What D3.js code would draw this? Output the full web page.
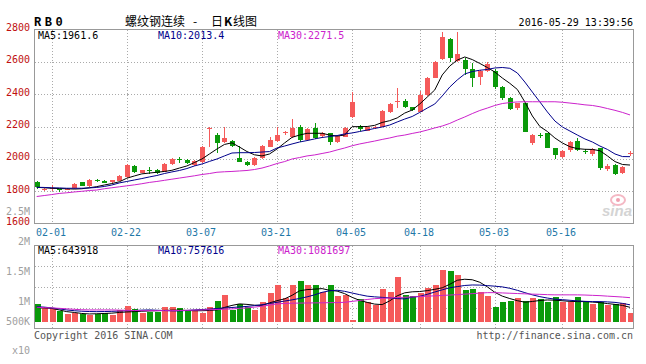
<!DOCTYPE html>
<html>
<head>
<meta charset="utf-8">
<script src="https://cdn.jsdelivr.net/npm/d3@7/dist/d3.min.js"></script>
<style>
  body { margin: 0; background: #fff; }
  svg { display: block; font-family: "DejaVu Sans Mono", monospace; font-size: 10px; }
</style>
</head>
<body>
<svg id="chart" width="646" height="364"></svg>
<script>
// trading days shown, 2016
const dates = [
  '01-28','01-29','02-01','02-02','02-03','02-04','02-05','02-15','02-16','02-17',
  '02-18','02-19','02-22','02-23','02-24','02-25','02-26','02-29','03-01','03-02',
  '03-03','03-04','03-07','03-08','03-09','03-10','03-11','03-14','03-15','03-16',
  '03-17','03-18','03-21','03-22','03-23','03-24','03-25','03-28','03-29','03-30',
  '03-31','04-01','04-05','04-06','04-07','04-08','04-11','04-12','04-13','04-14',
  '04-15','04-18','04-19','04-20','04-21','04-22','04-25','04-26','04-27','04-28',
  '04-29','05-03','05-04','05-05','05-06','05-09','05-10','05-11','05-12','05-13',
  '05-16','05-17','05-18','05-19','05-20','05-23','05-24','05-25','05-26','05-27'
];
const dateTicks = ['02-01','02-22','03-07','03-21','04-05','04-18','05-03','05-16'];

const opens = [
  1858,1808,1818,1812,1810,1818,1855,1832,1868,1865,
  1855,1865,1886,1956,1914,1928,1931,1920,1968,1997,
  1993,1962,1978,2185,2147,2106,2110,2003,1982,1962,
  2003,2075,2110,2158,2133,2199,2116,2189,2141,2158,
  2106,2137,2257,2203,2174,2190,2199,2292,2350,2360,
  2318,2292,2395,2502,2616,2741,2607,2611,2554,2504,
  2545,2545,2442,2374,2312,2343,2096,2150,2158,2065,
  2013,2054,2110,2050,2030,2065,1935,1962,1914,2030
];
const highs = [
  1862,1818,1838,1815,1818,1848,1858,1875,1873,1868,
  1872,1900,1966,1960,1934,1950,1935,1972,2006,2010,
  1996,1993,2080,2197,2162,2197,2116,2079,1985,2010,
  2085,2137,2199,2170,2245,2209,2190,2220,2168,2162,
  2145,2195,2415,2210,2200,2203,2305,2345,2436,2368,
  2322,2420,2504,2607,2786,2748,2786,2622,2591,2550,
  2597,2555,2448,2380,2345,2348,2152,2160,2162,2068,
  2054,2112,2130,2058,2065,2068,1965,1965,1955,2048
];
const lows = [
  1815,1803,1800,1795,1805,1815,1830,1828,1858,1850,
  1850,1862,1883,1912,1910,1906,1906,1916,1962,1975,
  1968,1958,1975,2071,2034,2100,2075,1978,1955,1958,
  2000,2072,2105,2150,2130,2106,2112,2122,2127,2085,
  2100,2132,2250,2170,2170,2185,2195,2285,2312,2315,
  2298,2288,2390,2498,2610,2597,2600,2519,2446,2457,
  2540,2430,2365,2300,2300,2165,2085,2130,2065,1997,
  2003,2040,2050,2030,2020,1930,1922,1900,1905,2018
];
const closes = [
  1825,1812,1822,1808,1812,1844,1834,1869,1864,1853,
  1869,1896,1962,1920,1931,1924,1914,1968,1997,1990,
  1972,1988,2075,2192,2100,2131,2079,1982,1962,2007,
  2079,2116,2147,2164,2193,2116,2184,2127,2162,2106,
  2141,2189,2353,2183,2195,2197,2298,2339,2355,2322,
  2302,2395,2498,2601,2752,2622,2648,2554,2498,2545,
  2587,2446,2374,2306,2343,2168,2147,2145,2069,2024,
  2050,2106,2054,2043,2059,1941,1956,1906,1951,2034
];
const ma5 = [
  1824,1821,1818,1816,1815,1813,1815,1821,1828,1838,
  1847,1858,1880,1894,1907,1912,1917,1922,1929,1943,
  1956,1977,1999,2030,2061,2089,2099,2073,2045,2025,
  2018,2030,2061,2098,2133,2147,2158,2158,2158,2147,
  2141,2147,2199,2199,2200,2207,2225,2236,2253,2283,
  2302,2339,2382,2426,2519,2574,2611,2630,2614,2590,
  2565,2537,2500,2467,2429,2352,2265,2200,2169,2129,
  2098,2075,2063,2059,2058,2050,2018,1983,1965,1961.6
];
const ma10 = [
  1824,1823,1821,1820,1818,1818,1818,1820,1823,1829,
  1838,1851,1860,1869,1878,1888,1897,1909,1919,1928,
  1940,1956,1968,1984,1999,2018,2036,2038,2038,2039,
  2042,2045,2067,2079,2092,2104,2113,2123,2132,2138,
  2144,2154,2160,2169,2178,2188,2197,2209,2228,2246,
  2262,2287,2314,2339,2389,2444,2488,2525,2540,2548,
  2553,2562,2565,2560,2531,2475,2413,2352,2290,2234,
  2197,2172,2147,2123,2104,2079,2058,2030,2014,2013.4
];
const ma30 = [
  1767,1773,1779,1786,1790,1795,1799,1804,1807,1815,
  1821,1827,1833,1839,1846,1854,1860,1867,1874,1881,
  1888,1895,1903,1909,1917,1920,1922,1925,1928,1934,
  1943,1956,1971,1983,1999,2008,2018,2024,2033,2042,
  2055,2067,2081,2092,2101,2110,2120,2129,2140,2147,
  2157,2166,2178,2191,2203,2219,2240,2259,2280,2299,
  2314,2330,2342,2348,2352,2353,2353,2353,2353,2353,
  2350,2345,2340,2334,2330,2322,2311,2300,2287,2271.5
];
const volumes = [
  799000,648000,603000,479000,342000,402000,342000,297000,329000,402000,
  297000,525000,708000,557000,402000,434000,434000,676000,676000,603000,
  525000,525000,402000,676000,950000,1210000,525000,785000,648000,525000,
  904000,1315000,1635000,1059000,1635000,1849000,1635000,1635000,1361000,1635000,
  1178000,1210000,68000,1014000,904000,753000,1484000,1361000,2000000,1210000,
  1164000,1288000,1543000,1667000,2352000,2306000,2091000,1438000,1484000,1333000,
  1178000,676000,904000,950000,1059000,950000,1087000,1014000,904000,1105000,
  904000,904000,1105000,950000,799000,904000,753000,799000,831000,402000
];
const volMa5 = [
  639000,616000,594000,525000,447000,411000,365000,342000,352000,365000,
  379000,411000,434000,447000,466000,479000,489000,502000,516000,516000,
  502000,489000,489000,502000,525000,639000,731000,799000,776000,740000,
  731000,845000,945000,1027000,1187000,1393000,1447000,1470000,1493000,1416000,
  1379000,1265000,1096000,959000,868000,790000,767000,936000,1164000,1301000,
  1347000,1361000,1402000,1461000,1530000,1689000,1872000,1918000,1895000,1781000,
  1575000,1324000,1151000,1041000,945000,877000,909000,954000,977000,968000,
  941000,913000,904000,904000,881000,858000,813000,776000,731000,643918
];
const volMa10 = [
  671000,653000,616000,571000,525000,489000,466000,452000,447000,452000,
  461000,475000,489000,502000,516000,525000,511000,498000,484000,479000,
  502000,525000,543000,562000,589000,616000,635000,662000,685000,721000,
  763000,817000,872000,927000,982000,1046000,1119000,1210000,1324000,1393000,
  1420000,1370000,1292000,1219000,1151000,1119000,1096000,1073000,1037000,1027000,
  1105000,1142000,1233000,1338000,1438000,1530000,1584000,1635000,1658000,1653000,
  1630000,1603000,1571000,1507000,1416000,1310000,1210000,1128000,1064000,1014000,
  991000,963000,936000,913000,904000,904000,890000,868000,822000,757616
];
const volMa30 = [
  644000,630000,616000,598000,575000,553000,534000,525000,525000,525000,
  525000,516000,507000,498000,493000,493000,493000,493000,493000,498000,
  507000,516000,525000,534000,548000,557000,571000,594000,621000,653000,
  694000,744000,799000,822000,831000,836000,840000,845000,849000,854000,
  858000,872000,913000,954000,1000000,1037000,1055000,1068000,1087000,1100000,
  1119000,1132000,1151000,1164000,1183000,1201000,1219000,1242000,1265000,1288000,
  1310000,1310000,1297000,1283000,1269000,1256000,1242000,1233000,1219000,1210000,
  1210000,1210000,1210000,1201000,1187000,1174000,1151000,1132000,1110000,1081697
];

const priceTicks = [2800, 2600, 2400, 2200, 2000, 1800, 1600];
const volLabels = [
  { v: 2500000, text: '2.5M' },
  { v: 2000000, text: '2M' },
  { v: 1500000, text: '1.5M' },
  { v: 1000000, text: '1M' },
  { v: 500000, text: '500K' }
];
const maNames = ['MA5', 'MA10', 'MA30'];

const red = '#f55a5a';
const green = '#0a9a0a';
const maColors = ['#000000', '#00008b', '#cc22cc'];
const gridColor = '#aaaaaa';
const frameColor = '#999999';

const price = { left: 34.5, right: 633.5, top: 29.5, bottom: 223.5 };
const vol = { left: 34.5, right: 633.5, top: 245.5, bottom: 328.5, base: 321.5 };

const svg = d3.select('#chart');

const xScale = d3.scalePoint().domain(dates).range([36.7, 630]);
const yScale = d3.scaleLinear().domain([1600, 2800]).range([price.bottom, price.top]);
const vScale = d3.scaleLinear().domain([0, 3450000]).range([vol.base, vol.top]);
// sina places the volume labels on their own spacing
const vLabelScale = d3.scaleLinear().domain([1000000, 2500000]).range([301.7, 211.6]);

const px = (d) => Math.round(xScale(d));

function drawGrid() {
  const g = svg.append('g').attr('class', 'grid')
    .attr('stroke', gridColor).attr('stroke-dasharray', '1,2').attr('shape-rendering', 'crispEdges');

  g.selectAll('line.h')
    .data(priceTicks.slice(1, -1))
    .join('line')
    .attr('class', 'h')
    .attr('x1', price.left).attr('x2', price.right)
    .attr('y1', (d) => Math.round(yScale(d)) + 0.5)
    .attr('y2', (d) => Math.round(yScale(d)) + 0.5);

  const vh = [1, 2, 3].map((k) => vol.top + k * (vol.bottom - vol.top) / 4);
  g.selectAll('line.vh')
    .data(vh)
    .join('line')
    .attr('class', 'vh')
    .attr('x1', vol.left).attr('x2', vol.right)
    .attr('y1', (d) => Math.round(d) + 0.5)
    .attr('y2', (d) => Math.round(d) + 0.5);

  [price, vol].forEach((p) => {
    g.append('g').selectAll('line')
      .data(dateTicks)
      .join('line')
      .attr('x1', (d) => px(d) + 0.5).attr('x2', (d) => px(d) + 0.5)
      .attr('y1', p.top).attr('y2', p.bottom);
  });
}

function drawFrames() {
  [price, vol].forEach((p) => {
    svg.append('rect')
      .attr('x', p.left).attr('y', p.top)
      .attr('width', p.right - p.left).attr('height', p.bottom - p.top)
      .attr('fill', 'none').attr('stroke', frameColor)
      .attr('shape-rendering', 'crispEdges');
  });
}

function drawLogo() {
  const g = svg.append('g').attr('class', 'logo');
  g.append('ellipse').attr('cx', 618).attr('cy', 200).attr('rx', 7).attr('ry', 5)
    .attr('fill', 'none').attr('stroke', '#f4b8c4').attr('stroke-width', 2);
  g.append('circle').attr('cx', 618).attr('cy', 200).attr('r', 2).attr('fill', '#f0a0b0');
  g.append('text').attr('x', 602).attr('y', 216)
    .attr('font-family', 'Liberation Sans, sans-serif').attr('font-size', 15)
    .attr('font-style', 'italic').attr('font-weight', 'bold')
    .attr('fill', '#d4d4d4').text('sina');
}

function drawCandles() {
  const candles = dates.map((d, i) => ({
    date: d, o: opens[i], h: highs[i], l: lows[i], c: closes[i]
  }));
  const g = svg.append('g').attr('class', 'candles').attr('shape-rendering', 'crispEdges');
  const col = (d) => (d.c >= d.o ? red : green);

  g.selectAll('line')
    .data(candles)
    .join('line')
    .attr('x1', (d) => px(d.date) + 0.5).attr('x2', (d) => px(d.date) + 0.5)
    .attr('y1', (d) => yScale(d.h)).attr('y2', (d) => yScale(d.l))
    .attr('stroke', col);

  g.selectAll('rect')
    .data(candles)
    .join('rect')
    .attr('x', (d) => px(d.date) - 2)
    .attr('y', (d) => yScale(Math.max(d.o, d.c)))
    .attr('width', 5)
    .attr('height', (d) => Math.max(1, Math.abs(yScale(d.o) - yScale(d.c))))
    .attr('fill', col);
}

function drawVolumes() {
  const g = svg.append('g').attr('class', 'volumes').attr('shape-rendering', 'crispEdges');
  g.selectAll('rect')
    .data(volumes)
    .join('rect')
    .attr('x', (d, i) => px(dates[i]) - 2.5)
    .attr('y', (d) => vScale(d))
    .attr('width', 6)
    .attr('height', (d) => vScale(0) - vScale(d))
    .attr('fill', (d, i) => (closes[i] >= opens[i] ? red : green));
}

function drawLines(series, y) {
  series.forEach((s, k) => {
    const line = d3.line().x((d, i) => xScale(dates[i])).y((d) => y(d));
    svg.append('path')
      .attr('d', line(s))
      .attr('fill', 'none')
      .attr('stroke', maColors[k])
      .attr('stroke-width', 1);
  });
}

function drawText() {
  // price axis labels
  svg.append('g').selectAll('text')
    .data(priceTicks)
    .join('text')
    .attr('x', 30).attr('y', (d) => yScale(d) + 1.5)
    .attr('text-anchor', 'end').attr('fill', '#c01010')
    .text((d) => d);

  // volume axis labels
  svg.append('g').selectAll('text')
    .data(volLabels)
    .join('text')
    .attr('x', 30).attr('y', (d) => Math.min(vLabelScale(d.v), 321.7) + 3.5)
    .attr('text-anchor', 'end').attr('fill', '#a0a0a0')
    .text((d) => d.text);

  svg.append('text').attr('x', 30).attr('y', 353.5)
    .attr('text-anchor', 'end').attr('fill', '#a0a0a0').text('x10');

  // dates
  svg.append('g').selectAll('text')
    .data(dateTicks)
    .join('text')
    .attr('x', (d) => px(d) - 1).attr('y', 235.5)
    .attr('text-anchor', 'middle').attr('fill', '#1f78a8')
    .text((d) => d);

  // header
  svg.append('text').attr('x', 34).attr('y', 25.5)
    .attr('font-family', 'Liberation Mono, monospace').attr('font-size', 12)
    .attr('font-weight', 'bold').attr('letter-spacing', 3.5).text('RB0');

  const title = svg.append('text').attr('y', 26)
    .attr('font-family', '"Noto Sans CJK SC", sans-serif').attr('font-size', 12);
  title.append('tspan').attr('x', 125).text('螺纹钢连续');
  title.append('tspan').attr('x', 193).text('-');
  title.append('tspan').attr('x', 211).text('日');
  title.append('tspan').attr('x', 224).attr('font-weight', 'bold').text('K');
  title.append('tspan').attr('x', 233).text('线图');

  svg.append('text').attr('x', 633).attr('y', 26)
    .attr('text-anchor', 'end').text('2016-05-29 13:39:56');

  // MA legends
  const priceLast = [ma5, ma10, ma30].map((s) => s[s.length - 1].toFixed(1));
  const volLast = [volMa5, volMa10, volMa30].map((s) => s[s.length - 1]);
  const legendX = [38, 158, 278];
  maNames.forEach((name, k) => {
    svg.append('text').attr('x', legendX[k]).attr('y', 38.5)
      .attr('fill', maColors[k]).text(name + ':' + priceLast[k]);
    svg.append('text').attr('x', legendX[k]).attr('y', 253.5)
      .attr('fill', maColors[k]).text(name + ':' + volLast[k]);
  });

  svg.append('text').attr('x', 34).attr('y', 338.5)
    .attr('fill', '#555').text('Copyright 2016 SINA.COM');
  svg.append('text').attr('x', 633).attr('y', 338.5)
    .attr('text-anchor', 'end').attr('fill', '#555').text('http://finance.sina.com.cn');
}

drawGrid();
drawLogo();
drawCandles();
drawVolumes();
drawLines([ma5, ma10, ma30], yScale);
drawLines([volMa5, volMa10, volMa30], vScale);
drawFrames();
drawText();
</script>
</body>
</html>
